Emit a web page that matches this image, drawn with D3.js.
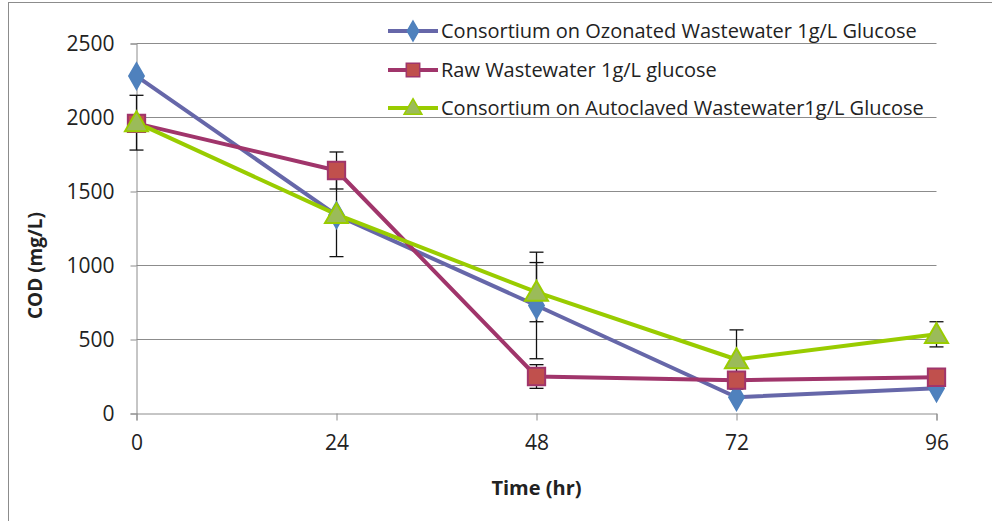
<!DOCTYPE html>
<html>
<head>
<meta charset="utf-8">
<script src="https://cdn.jsdelivr.net/npm/d3@7/dist/d3.min.js"></script>
<style>
  html, body { margin: 0; padding: 0; background: #fff; }
  svg { display: block; }
  text { font-family: "Open Sans", Lato, sans-serif; fill: #222; }
</style>
</head>
<body>
<svg id="chart" width="992" height="521"></svg>
<script>
// Sampling times (hr)
const times = [0, 24, 48, 72, 96];
const xTicks = [0, 24, 48, 72, 96];
const yTicks = [0, 500, 1000, 1500, 2000, 2500];

// COD readings (mg/L) per treatment
const ozonated   = [2280, 1340, 730, 110, 170];
const raw        = [1960, 1642, 250, 225, 245];
const autoclaved = [1965, 1345, 820, 365, 535];

// Standard deviations (0 = no bar drawn)
const ozonatedErr   = [0, 0, 360, 0, 0];
const rawErr        = [0, 125, 80, 0, 0];
const autoclavedErr = [185, 285, 200, 200, 85];

const seriesNames = [
  "Consortium on Ozonated Wastewater 1g/L Glucose",
  "Raw Wastewater 1g/L glucose",
  "Consortium on Autoclaved Wastewater1g/L Glucose"
];

const series = [
  { name: seriesNames[0], values: ozonated,   err: ozonatedErr,   line: "#6667A9", fill: "#4F81BD", stroke: "#4F81BD", shape: d3.symbolDiamond,  size: 190 },
  { name: seriesNames[1], values: raw,        err: rawErr,        line: "#A0356B", fill: "#C0504D", stroke: "#A0356B", shape: d3.symbolSquare,   size: 300 },
  { name: seriesNames[2], values: autoclaved, err: autoclavedErr, line: "#99CC00", fill: "#9BBB59", stroke: "#99CC00", shape: d3.symbolTriangle, size: 230 }
];

const svg = d3.select("#chart");

// Outer frame (top and left edges visible)
svg.append("line").attr("x1", 8).attr("x2", 992).attr("y1", 2.5).attr("y2", 2.5)
  .attr("stroke", "#8c8c8c").attr("stroke-width", 1);
svg.append("line").attr("x1", 8.5).attr("x2", 8.5).attr("y1", 2).attr("y2", 521)
  .attr("stroke", "#8c8c8c").attr("stroke-width", 1);

const x = d3.scaleLinear().domain([0, 96]).range([136.5, 936.5]);
const y = d3.scaleLinear().domain([0, 2500]).range([413.5, 43.5]);

// Horizontal gridlines
svg.append("g")
  .selectAll("line")
  .data(yTicks.filter(d => d > 0))
  .join("line")
  .attr("x1", x(0)).attr("x2", x(96))
  .attr("y1", d => y(d)).attr("y2", d => y(d))
  .attr("stroke", "#8c8c8c").attr("stroke-width", 1);

// Y axis
const yAxis = svg.append("g")
  .attr("transform", `translate(${x(0)},0)`)
  .call(d3.axisLeft(y).tickValues(yTicks).tickSize(6).tickPadding(16).tickFormat(d3.format("d")));
yAxis.select(".domain").attr("stroke", "#8c8c8c");
yAxis.selectAll(".tick line").attr("stroke", "#8c8c8c");
yAxis.selectAll(".tick text").attr("font-size", 21).attr("fill", "#222")
  .style("font-family", "'Open Sans', sans-serif");

// X axis
const xAxis = svg.append("g")
  .attr("transform", `translate(0,${y(0)})`)
  .call(d3.axisBottom(x).tickValues(xTicks).tickSize(7).tickPadding(15).tickFormat(d3.format("d")));
xAxis.select(".domain").attr("stroke", "#8c8c8c");
xAxis.selectAll(".tick line").attr("stroke", "#8c8c8c");
xAxis.selectAll(".tick text").attr("font-size", 21).attr("fill", "#222")
  .style("font-family", "'Open Sans', sans-serif");

// Axis titles
svg.append("text")
  .attr("x", x(48)).attr("y", 495)
  .attr("text-anchor", "middle")
  .attr("font-size", 20).attr("font-weight", "bold")
  .text("Time (hr)");

svg.append("text")
  .attr("transform", `translate(42,${y(1000)}) rotate(-90)`)
  .attr("text-anchor", "middle")
  .attr("font-size", 19).attr("font-weight", "bold")
  .text("COD (mg/L)");

// Series lines
const lineGen = d3.line().x((d, i) => x(times[i])).y(d => y(d));

series.forEach(s => {
  svg.append("path")
    .datum(s.values)
    .attr("d", lineGen)
    .attr("fill", "none")
    .attr("stroke", s.line)
    .attr("stroke-width", 4)
    .attr("stroke-linejoin", "round");
});

// Error bars
series.forEach(s => {
  const g = svg.append("g");
  s.values.forEach((v, i) => {
    const e = s.err[i];
    if (!e) return;
    const cx = x(times[i]);
    g.append("line").attr("x1", cx).attr("x2", cx)
      .attr("y1", y(v + e)).attr("y2", y(v - e))
      .attr("stroke", "#111").attr("stroke-width", 1.3);
    [v + e, v - e].forEach(b => {
      g.append("line").attr("x1", cx - 7).attr("x2", cx + 7)
        .attr("y1", y(b)).attr("y2", y(b))
        .attr("stroke", "#111").attr("stroke-width", 1.3);
    });
  });
});

// Markers
series.forEach(s => {
  svg.append("g")
    .selectAll("path")
    .data(s.values)
    .join("path")
    .attr("transform", (d, i) => `translate(${x(times[i])},${y(d) + (s.shape === d3.symbolTriangle ? 2 : 0)})`)
    .attr("d", d3.symbol().type(s.shape).size(s.size))
    .attr("fill", s.fill)
    .attr("stroke", s.stroke)
    .attr("stroke-width", 2);
});

// Legend
const legend = svg.append("g").attr("transform", "translate(388,0)");
const legendY = [31, 70, 108];
series.forEach((s, i) => {
  const g = legend.append("g").attr("transform", `translate(0,${legendY[i]})`);
  g.append("line").attr("x1", 0).attr("x2", 50).attr("y1", 0).attr("y2", 0)
    .attr("stroke", s.line).attr("stroke-width", 4);
  g.append("path")
    .attr("transform", `translate(25,${s.shape === d3.symbolTriangle ? 1 : 0})`)
    .attr("d", d3.symbol().type(s.shape).size(s.size * 0.6))
    .attr("fill", s.fill).attr("stroke", s.stroke).attr("stroke-width", 1.5);
  g.append("text")
    .attr("x", 53).attr("y", 7)
    .attr("font-size", 20)
    .attr("fill", "#333")
    .text(s.name);
});
</script>
</body>
</html>
